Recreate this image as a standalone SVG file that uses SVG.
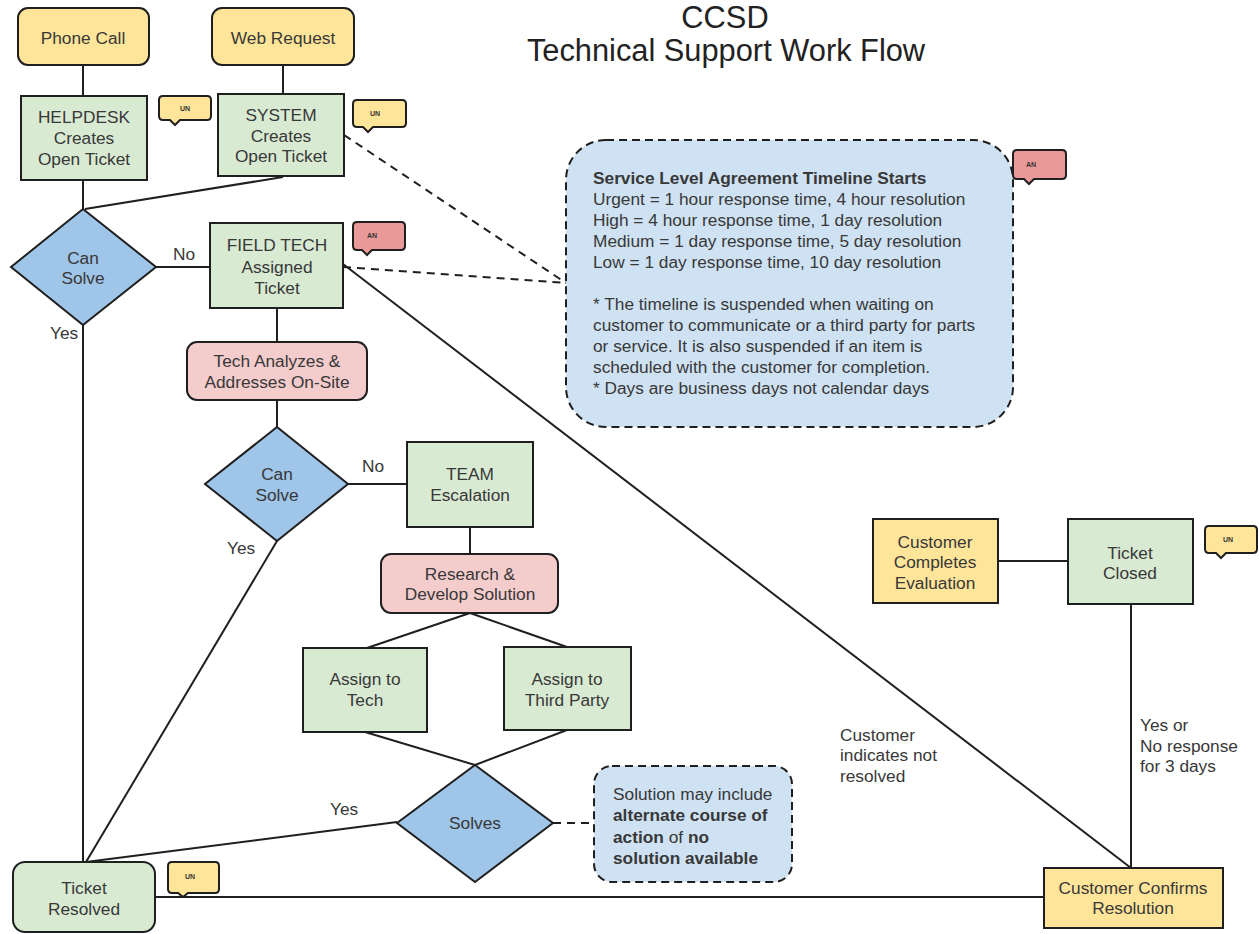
<svg xmlns="http://www.w3.org/2000/svg" width="1259" height="934" viewBox="0 0 1259 934">
<style>
  text { font-family: "Liberation Sans", Arial, sans-serif; font-size: 17.3px; fill: #383838; }
  .c { text-anchor: middle; }
  .title { font-size: 30.8px; fill: #222; text-anchor: middle; }
  .b { font-weight: bold; }
  .tiny { font-size: 7px; font-weight: bold; text-anchor: middle; fill: #333; }
  .box { stroke: #1f1f1f; stroke-width: 2; }
  .yellow { fill: #ffe599; }
  .green { fill: #d9ead3; }
  .blue { fill: #9fc5e8; }
  .pink { fill: #f4cccc; }
  .note { fill: #cfe2f3; stroke: #1f1f1f; stroke-width: 2; stroke-dasharray: 8 5; }
  .red { fill: #ea9999; }
  .line { stroke: #1f1f1f; stroke-width: 2; fill: none; }
  .dash { stroke: #1f1f1f; stroke-width: 2; fill: none; stroke-dasharray: 8 6; }
</style>
<rect width="1259" height="934" fill="#ffffff"/>

<g id="title">
  <text class="title" x="725" y="28">CCSD</text>
  <text class="title" x="726" y="61">Technical Support Work Flow</text>
</g>

<g id="connectors">
  <path class="line" d="M83,65 V96"/>
  <path class="line" d="M283,65 V94"/>
  <path class="line" d="M83,180 V209"/>
  <path class="line" d="M283,177 L85,209"/>
  <path class="line" d="M156,267 H210"/>
  <path class="line" d="M83,325 V862"/>
  <path class="line" d="M277,308 V342"/>
  <path class="line" d="M277,400 V427"/>
  <path class="line" d="M348,484 H407"/>
  <path class="line" d="M277,541 L86,862"/>
  <path class="line" d="M470,527 V554"/>
  <path class="line" d="M470,613 L367,648"/>
  <path class="line" d="M470,613 L567,647"/>
  <path class="line" d="M365,732 L475,765"/>
  <path class="line" d="M567,730 L475,765"/>
  <path class="line" d="M397,822 L86,862"/>
  <path class="line" d="M155,897 H1044"/>
  <path class="line" d="M343,264 L1131,868"/>
  <path class="line" d="M1131,604 V868"/>
  <path class="line" d="M998,561 H1068"/>
  <path class="dash" d="M344,135 L566,283"/>
  <path class="dash" d="M343,267 L566,283"/>
  <path class="dash" d="M553,823 H594"/>
  <text x="173" y="260">No</text>
  <text x="50" y="339">Yes</text>
  <text x="362" y="472">No</text>
  <text x="227" y="554">Yes</text>
  <text x="330" y="815">Yes</text>
  <text x="1140" y="731">Yes or</text>
  <text x="1140" y="752">No response</text>
  <text x="1140" y="772">for 3 days</text>
  <text x="840" y="741">Customer</text>
  <text x="840" y="761">indicates not</text>
  <text x="840" y="782">resolved</text>
</g>

<g id="phone-call">
  <rect class="box yellow" x="18" y="8" width="131" height="57" rx="10"/>
  <text class="c" x="83" y="44">Phone Call</text>
</g>
<g id="web-request">
  <rect class="box yellow" x="212" y="8" width="142" height="57" rx="10"/>
  <text class="c" x="283" y="44">Web Request</text>
</g>
<g id="helpdesk">
  <rect class="box green" x="21" y="96" width="126" height="84"/>
  <text class="c" x="84" y="123">HELPDESK</text>
  <text class="c" x="84" y="144">Creates</text>
  <text class="c" x="84" y="165">Open Ticket</text>
</g>
<g id="system">
  <rect class="box green" x="218" y="94" width="126" height="82"/>
  <text class="c" x="281" y="121">SYSTEM</text>
  <text class="c" x="281" y="142">Creates</text>
  <text class="c" x="281" y="162">Open Ticket</text>
</g>
<g id="can-solve-1">
  <polygon class="box blue" points="83,209 156,267 83,325 11,267"/>
  <text class="c" x="83" y="264">Can</text>
  <text class="c" x="83" y="284">Solve</text>
</g>
<g id="field-tech">
  <rect class="box green" x="210" y="223" width="133" height="85"/>
  <text class="c" x="277" y="251">FIELD TECH</text>
  <text class="c" x="277" y="273">Assigned</text>
  <text class="c" x="277" y="294">Ticket</text>
</g>
<g id="tech-analyzes">
  <rect class="box pink" x="187" y="342" width="180" height="58" rx="10"/>
  <text class="c" x="277" y="367">Tech Analyzes &amp;</text>
  <text class="c" x="277" y="388">Addresses On-Site</text>
</g>
<g id="can-solve-2">
  <polygon class="box blue" points="277,427 348,484 277,541 205,484"/>
  <text class="c" x="277" y="480">Can</text>
  <text class="c" x="277" y="501">Solve</text>
</g>
<g id="team-escalation">
  <rect class="box green" x="407" y="442" width="126" height="85"/>
  <text class="c" x="470" y="480">TEAM</text>
  <text class="c" x="470" y="501">Escalation</text>
</g>
<g id="research">
  <rect class="box pink" x="381" y="554" width="177" height="59" rx="10"/>
  <text class="c" x="470" y="580">Research &amp;</text>
  <text class="c" x="470" y="600">Develop Solution</text>
</g>
<g id="assign-tech">
  <rect class="box green" x="303" y="648" width="124" height="84"/>
  <text class="c" x="365" y="685">Assign to</text>
  <text class="c" x="365" y="706">Tech</text>
</g>
<g id="assign-third">
  <rect class="box green" x="504" y="647" width="127" height="83"/>
  <text class="c" x="567" y="685">Assign to</text>
  <text class="c" x="567" y="706">Third Party</text>
</g>
<g id="solves">
  <polygon class="box blue" points="475,765 553,823 475,882 397,823"/>
  <text class="c" x="475" y="829">Solves</text>
</g>
<g id="solution-note">
  <rect class="note" x="594" y="766" width="198" height="116" rx="18"/>
  <text x="613" y="800">Solution may include</text>
  <text x="613" y="821" class="b">alternate course of</text>
  <text x="613" y="843"><tspan class="b">action</tspan> of <tspan class="b">no</tspan></text>
  <text x="613" y="864" class="b">solution available</text>
</g>
<g id="ticket-resolved">
  <rect class="box green" x="13" y="862" width="142" height="70" rx="12"/>
  <text class="c" x="84" y="894">Ticket</text>
  <text class="c" x="84" y="915">Resolved</text>
</g>
<g id="customer-confirms">
  <rect class="box yellow" x="1044" y="868" width="179" height="60"/>
  <text class="c" x="1133" y="894">Customer Confirms</text>
  <text class="c" x="1133" y="914">Resolution</text>
</g>
<g id="ticket-closed">
  <rect class="box green" x="1068" y="519" width="125" height="85"/>
  <text class="c" x="1130" y="559">Ticket</text>
  <text class="c" x="1130" y="579">Closed</text>
</g>
<g id="customer-evaluation">
  <rect class="box yellow" x="873" y="519" width="125" height="84"/>
  <text class="c" x="935" y="548">Customer</text>
  <text class="c" x="935" y="568">Completes</text>
  <text class="c" x="935" y="589">Evaluation</text>
</g>
<g id="sla-note">
  <rect class="note" x="566" y="140" width="447" height="287" rx="40"/>
  <text x="593" y="184" class="b">Service Level Agreement Timeline Starts</text>
  <text x="593" y="205">Urgent = 1 hour response time, 4 hour resolution</text>
  <text x="593" y="226">High = 4 hour response time, 1 day resolution</text>
  <text x="593" y="247">Medium = 1 day response time, 5 day resolution</text>
  <text x="593" y="268">Low = 1 day response time, 10 day resolution</text>
  <text x="593" y="310">* The timeline is suspended when waiting on</text>
  <text x="593" y="331">customer to communicate or a third party for parts</text>
  <text x="593" y="352">or service. It is also suspended if an item is</text>
  <text x="593" y="373">scheduled with the customer for completion.</text>
  <text x="593" y="394">* Days are business days not calendar days</text>
</g>

<g id="callout-un-1">
  <path class="box yellow" d="M163,96 H207 Q211,96 211,100 V116 Q211,120 207,120 H180 L175,125 L170,120 H163 Q159,120 159,116 V100 Q159,96 163,96 Z"/>
  <text class="tiny" x="185" y="111">UN</text>
</g>
<g id="callout-un-2">
  <path class="box yellow" d="M357,100 H402 Q406,100 406,104 V123 Q406,127 402,127 H373 L368,132 L363,127 H357 Q353,127 353,123 V104 Q353,100 357,100 Z"/>
  <text class="tiny" x="375" y="116">UN</text>
</g>
<g id="callout-an-1">
  <path class="box red" d="M357,222 H401 Q405,222 405,226 V246 Q405,250 401,250 H372 L367,255 L362,250 H357 Q353,250 353,246 V226 Q353,222 357,222 Z"/>
  <text class="tiny" x="372" y="238">AN</text>
</g>
<g id="callout-an-2">
  <path class="box red" d="M1017,150 H1062 Q1066,150 1066,154 V175 Q1066,179 1062,179 H1034 L1029,184 L1024,179 H1017 Q1013,179 1013,175 V154 Q1013,150 1017,150 Z"/>
  <text class="tiny" x="1031" y="167">AN</text>
</g>
<g id="callout-un-3">
  <path class="box yellow" d="M172,862 H215 Q219,862 219,866 V889 Q219,893 215,893 H188 L183,897 L178,893 H172 Q168,893 168,889 V866 Q168,862 172,862 Z"/>
  <text class="tiny" x="190" y="879">UN</text>
</g>
<g id="callout-un-4">
  <path class="box yellow" d="M1209,526 H1253 Q1257,526 1257,530 V549 Q1257,553 1253,553 H1226 L1221,558 L1216,553 H1209 Q1205,553 1205,549 V530 Q1205,526 1209,526 Z"/>
  <text class="tiny" x="1228" y="542">UN</text>
</g>
</svg>
